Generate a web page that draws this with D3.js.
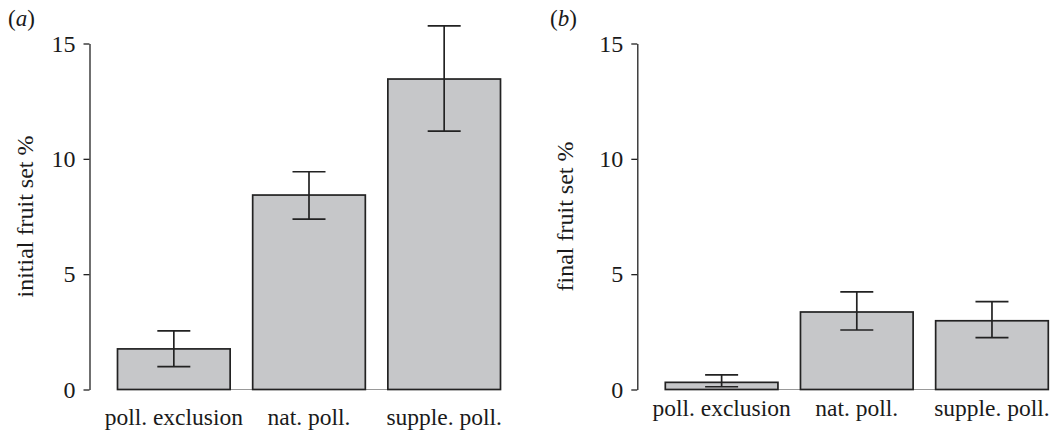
<!DOCTYPE html>
<html>
<head>
<meta charset="utf-8">
<script src="https://cdn.jsdelivr.net/npm/d3@7"></script>
<style>
  body { margin: 0; background: #fff; }
</style>
</head>
<body>
<script>
// data
var categories = ["poll. exclusion", "nat. poll.", "supple. poll."];
var initialMean = [1.76, 8.43, 13.46];
var initialLow = [0.99, 7.39, 11.2];
var initialHigh = [2.54, 9.44, 15.76];
var finalMean = [0.31, 3.36, 2.98];
var finalLow = [0.12, 2.58, 2.25];
var finalHigh = [0.63, 4.23, 3.81];
var yTicks = [0, 5, 10, 15];

var width = 1057, height = 434;
var plotTop = 43.5, plotBottom = 389.5;
var serif = "'Liberation Serif', 'Times New Roman', Times, serif";

var svg = d3.select("body").append("svg")
  .attr("width", width)
  .attr("height", height)
  .style("font-family", serif);

var y = d3.scaleLinear().domain([0, 15]).range([plotBottom, plotTop]);

// panel settings
var panels = [
  { tag: "a", title: "initial fruit set %", mean: initialMean, low: initialLow, high: initialHigh,
    axisX: 89.5, titleX: 33, tagX: 8, labelY: 425 },
  { tag: "b", title: "final fruit set %", mean: finalMean, low: finalLow, high: finalHigh,
    axisX: 637.3, titleX: 573, tagX: 550, labelY: 415.5 }
];

panels.forEach(function (p) {
  var g = svg.append("g");

  var x = d3.scaleBand().domain(categories)
    .range([p.axisX + 28, p.axisX + 28 + 383])
    .paddingInner(1 / 6).paddingOuter(0);

  var rows = categories.map(function (c, i) {
    return { cat: c, mean: p.mean[i], low: p.low[i], high: p.high[i] };
  });

  // light baseline under the bars
  g.append("line")
    .attr("x1", x.range()[0]).attr("x2", x.range()[1])
    .attr("y1", y(0)).attr("y2", y(0))
    .attr("stroke", "#999").attr("stroke-width", 1);

  // bars
  g.selectAll(".bar").data(rows).enter().append("rect")
    .attr("class", "bar")
    .attr("x", function (d) { return x(d.cat); })
    .attr("y", function (d) { return y(d.mean); })
    .attr("width", x.bandwidth())
    .attr("height", function (d) { return y(0) - y(d.mean); })
    .attr("fill", "#c6c7c9")
    .attr("stroke", "#222")
    .attr("stroke-width", 1.7);

  // error bars
  var cap = 16.5;
  var eb = g.selectAll(".err").data(rows).enter().append("g").attr("class", "err")
    .attr("stroke", "#222").attr("stroke-width", 1.7);
  eb.append("line")
    .attr("x1", function (d) { return x(d.cat) + x.bandwidth() / 2; })
    .attr("x2", function (d) { return x(d.cat) + x.bandwidth() / 2; })
    .attr("y1", function (d) { return y(d.low); })
    .attr("y2", function (d) { return y(d.high); });
  ["low", "high"].forEach(function (k) {
    eb.append("line")
      .attr("x1", function (d) { return x(d.cat) + x.bandwidth() / 2 - cap; })
      .attr("x2", function (d) { return x(d.cat) + x.bandwidth() / 2 + cap; })
      .attr("y1", function (d) { return y(d[k]); })
      .attr("y2", function (d) { return y(d[k]); });
  });

  // y axis
  var ax = g.append("g")
    .attr("transform", "translate(" + p.axisX + ",0)")
    .call(d3.axisLeft(y).tickValues(yTicks).tickSize(6).tickSizeOuter(0).tickPadding(8));
  ax.attr("font-family", serif).attr("font-size", 24);
  ax.select(".domain").attr("stroke", "#222").attr("stroke-width", 1.3);
  ax.selectAll(".tick line").attr("stroke", "#222").attr("stroke-width", 1.3);
  ax.selectAll(".tick text").attr("fill", "#1a1a1a");

  // category labels
  g.selectAll(".cat").data(rows).enter().append("text")
    .attr("class", "cat")
    .attr("x", function (d) { return x(d.cat) + x.bandwidth() / 2; })
    .attr("y", p.labelY)
    .attr("text-anchor", "middle")
    .attr("fill", "#1a1a1a")
    .style("font-size", "23.5px")
    .text(function (d) { return d.cat; });

  // axis title
  g.append("text")
    .attr("transform", "translate(" + p.titleX + "," + (plotTop + plotBottom) / 2 + ") rotate(-90)")
    .attr("text-anchor", "middle")
    .attr("fill", "#1a1a1a")
    .style("font-size", "24px")
    .text(p.title);

  // panel tag
  var t = g.append("text")
    .attr("x", p.tagX).attr("y", 26)
    .attr("fill", "#1a1a1a")
    .style("font-size", "23px");
  t.append("tspan").text("(");
  t.append("tspan").style("font-style", "italic").text(p.tag);
  t.append("tspan").text(")");
});
</script>
</body>
</html>
